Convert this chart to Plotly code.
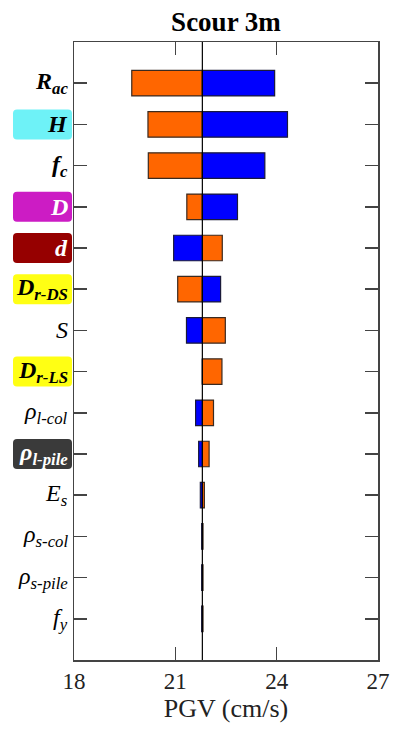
import plotly.graph_objects as go

# ---- data ----
params = ["R_ac", "H", "f_c", "D", "d", "D_r-DS", "S", "D_r-LS",
          "rho_l-col", "rho_l-pile", "E_s", "rho_s-col", "rho_s-pile", "f_y"]
label_text = [
    "<b><i>R</i></b><b><i><sub>ac</sub></i></b>",
    "<b><i>H</i></b>",
    "<b><i>f</i></b><b><i><sub>c</sub></i></b>",
    "<b><i>D</i></b>",
    "<b><i>d</i></b>",
    "<b><i>D</i></b><b><i><sub>r-DS</sub></i></b>",
    "<i>S</i>",
    "<b><i>D</i></b><b><i><sub>r-LS</sub></i></b>",
    "<i>ρ</i><i><sub>l-col</sub></i>",
    "<b><i>ρ</i></b><b><i><sub>l-pile</sub></i></b>",
    "<i>E</i><i><sub>s</sub></i>",
    "<i>ρ</i><i><sub>s-col</sub></i>",
    "<i>ρ</i><i><sub>s-pile</sub></i>",
    "<i>f</i><i><sub>y</sub></i>",
]
label_bg = [None, "#6EF2F7", None, "#CC1CC4", "#960000", "#FFFF14", None,
            "#FFFF14", None, "#3A3A3A", None, None, None, None]
label_fg = ["black", "black", "black", "white", "white", "black", "black",
            "black", "black", "white", "black", "black", "black", "black"]

base_pgv = 21.8
orange_vals = [19.71, 20.19, 20.20, 21.34, 22.39, 21.07, 22.48, 22.38,
               22.13, 22.00, 21.86, 21.82, 21.82, 21.82]
blue_vals = [23.94, 24.32, 23.65, 22.84, 20.95, 22.34, 21.33, 21.80,
             21.60, 21.69, 21.74, 21.78, 21.78, 21.78]
x_ticks = [18, 21, 24, 27]

FONT = "Liberation Serif"
AX = "#444444"
W, H = 394, 731
ML, MR, MT, MB = 74, 16, 42, 71
PW, PH = W - ML - MR, H - MT - MB
Y_RANGE = [14, -1]

fig = go.Figure()
fig.add_trace(go.Bar(
    y=params, x=[v - base_pgv for v in orange_vals], base=base_pgv,
    orientation="h", width=0.62,
    marker=dict(color="#FF6600", line=dict(color="#3a2a20", width=1.2)),
    name="orange"))
fig.add_trace(go.Bar(
    y=params, x=[v - base_pgv for v in blue_vals], base=base_pgv,
    orientation="h", width=0.62,
    marker=dict(color="#0000FF", line=dict(color="#1a1a3a", width=1.2)),
    name="blue"))

fig.add_shape(type="line", xref="x", yref="paper", x0=base_pgv, x1=base_pgv,
              y0=0, y1=1, line=dict(color="black", width=1.2), layer="above")

# rounded label boxes (paper coordinates derived from the category axis range)
bx0, bx1 = (13 - ML) / PW, (72 - ML) / PW
rx, ry = 4 / PW, 4 / PH
hh = 15 / PH
for i, bg in enumerate(label_bg):
    if not bg:
        continue
    yc = (Y_RANGE[0] - i) / (Y_RANGE[0] - Y_RANGE[1])
    y0, y1 = yc - hh, yc + hh
    path = (f"M {bx0+rx},{y0} L {bx1-rx},{y0} Q {bx1},{y0} {bx1},{y0+ry} "
            f"L {bx1},{y1-ry} Q {bx1},{y1} {bx1-rx},{y1} L {bx0+rx},{y1} "
            f"Q {bx0},{y1} {bx0},{y1-ry} L {bx0},{y0+ry} Q {bx0},{y0} {bx0+rx},{y0} Z")
    fig.add_shape(type="path", xref="paper", yref="paper", path=path,
                  fillcolor=bg, line=dict(width=0), layer="below")

for p, t, fg in zip(params, label_text, label_fg):
    fig.add_annotation(
        x=(70 - ML) / PW, xref="paper", y=p, yref="y", xanchor="right",
        yanchor="middle", text=t, showarrow=False, align="right",
        font=dict(family=FONT, size=24, color=fg))

fig.update_layout(
    width=W, height=H,
    margin=dict(l=ML, r=MR, t=MT, b=MB, autoexpand=False),
    plot_bgcolor="white", paper_bgcolor="white",
    barmode="overlay", showlegend=False,
    title=dict(text="<b>Scour 3m</b>", x=0.5, xref="paper", xanchor="center",
               y=1 - 22 / H, yref="container", yanchor="middle",
               font=dict(family=FONT, size=27, color="black")),
    xaxis=dict(range=[18, 27], tickvals=x_ticks, ticks="inside", ticklen=13,
               tickwidth=1.5, tickcolor=AX, showline=True, linecolor=AX,
               linewidth=1.5, mirror="ticks", showgrid=False, zeroline=False,
               automargin=False,
               tickfont=dict(family=FONT, size=23, color="#222"),
               title=dict(text="PGV (cm/s)", standoff=4,
                          font=dict(family=FONT, size=26, color="#222"))),
    yaxis=dict(type="category", categoryorder="array", categoryarray=params,
               range=Y_RANGE, ticks="inside", ticklen=13, tickwidth=1.5,
               tickcolor=AX, showline=True, linecolor=AX, linewidth=1.5,
               mirror="ticks", showgrid=False, zeroline=False,
               automargin=False, showticklabels=False),
)

fig.write_html("out.html",
               config={"displayModeBar": False, "staticPlot": True},
               post_script="document.body.style.margin='0';"
                           "document.body.style.overflow='hidden';")
